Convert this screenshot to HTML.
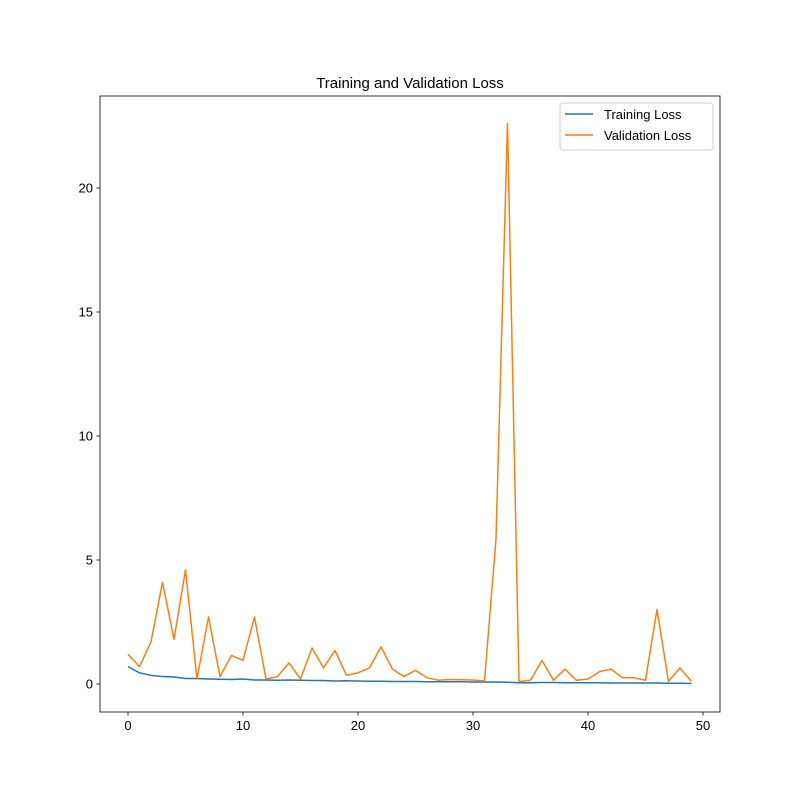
<!DOCTYPE html>
<html><head><meta charset="utf-8"><style>
body{margin:0;background:#fff}
svg{display:block;font-family:"Liberation Sans","DejaVu Sans",sans-serif}
</style></head><body>
<svg id="chart" width="800" height="800">
<rect x="0" y="0" width="800" height="800" fill="#fff"/>
<text x="410" y="88" text-anchor="middle" font-size="15">Training and Validation Loss</text>
<g id="plot"></g>
</svg>
<script>
const epochs = Array.from({length:50},(_,i)=>i);
const trainLoss = [0.7,0.45,0.35,0.3,0.28,0.22,0.22,0.2,0.19,0.18,0.2,0.16,0.16,0.15,0.16,0.15,0.14,0.14,0.12,0.13,0.12,0.11,0.11,0.1,0.1,0.1,0.09,0.09,0.09,0.09,0.08,0.08,0.08,0.07,0.05,0.05,0.06,0.06,0.05,0.05,0.05,0.05,0.04,0.04,0.04,0.04,0.04,0.03,0.03,0.02];
const valLoss = [1.2,0.7,1.7,4.1,1.8,4.6,0.2,2.7,0.3,1.15,0.95,2.7,0.2,0.3,0.85,0.2,1.45,0.65,1.35,0.35,0.45,0.65,1.5,0.6,0.3,0.55,0.25,0.15,0.18,0.17,0.16,0.12,5.85,22.6,0.1,0.15,0.95,0.15,0.6,0.15,0.2,0.5,0.6,0.25,0.25,0.15,3.0,0.1,0.65,0.1];
const xTicks = [0,10,20,30,40,50];
const yTicks = [0,5,10,15,20];

const L=100,R=720,T=96,B=712;
const x=v=>128+v*11.5;
const y=v=>684-v*24.8;
const NS="http://www.w3.org/2000/svg";
const g=document.getElementById('plot');
function mk(tag,attrs,parent){const e=document.createElementNS(NS,tag);for(const k in attrs)e.setAttribute(k,attrs[k]);(parent||g).appendChild(e);return e;}

function line(data,color,name){
  const p=mk('polyline',{points:data.map((v,i)=>x(epochs[i])+','+y(v)).join(' '),fill:'none',stroke:color,'stroke-width':1.5,'stroke-linejoin':'round'});
  
  
}
line(trainLoss,'#1f77b4','training-loss-line');
line(valLoss,'#ff7f0e','validation-loss-line');

const frame=mk('rect',{x:L,y:T,width:R-L,height:B-T,fill:'none',stroke:'#000','stroke-width':0.8});



xTicks.forEach(t=>{
  mk('line',{x1:x(t),x2:x(t),y1:B,y2:B+3.5,stroke:'#000','stroke-width':0.8});
  const tx=mk('text',{x:x(t),y:B+18,'text-anchor':'middle','font-size':13});
  tx.textContent=t;
  
  
});
yTicks.forEach(t=>{
  mk('line',{x1:L-3.5,x2:L,y1:y(t),y2:y(t),stroke:'#000','stroke-width':0.8});
  const tx=mk('text',{x:L-7,y:y(t)+4.5,'text-anchor':'end','font-size':13});
  tx.textContent=t;
  
  
});

const lg=mk('g',{});


mk('rect',{x:560,y:103,width:153,height:47,rx:3,fill:'#fff',stroke:'#ccc','stroke-width':1},lg);
mk('line',{x1:565,x2:593,y1:114,y2:114,stroke:'#1f77b4','stroke-width':1.5},lg);
const t1=mk('text',{x:604,y:119,'font-size':13},lg);t1.textContent='Training Loss';


mk('line',{x1:565,x2:593,y1:135,y2:135,stroke:'#ff7f0e','stroke-width':1.5},lg);
const t2=mk('text',{x:604,y:140,'font-size':13},lg);t2.textContent='Validation Loss';


</script>
</body></html>
